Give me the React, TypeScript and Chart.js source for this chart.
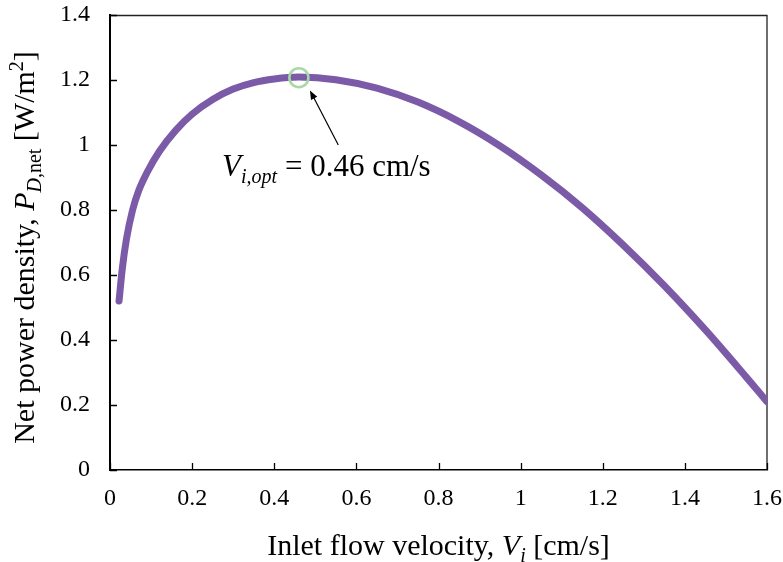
import { useEffect, useRef } from "react";
import { Chart, registerables } from "chart.js";

Chart.register(...registerables);

// Inlet flow velocity V_i [cm/s]
const velocity = [0.022, 0.03, 0.04, 0.055, 0.07, 0.09, 0.12, 0.16, 0.2, 0.25, 0.3, 0.35, 0.4, 0.46, 0.55, 0.65, 0.75, 0.85, 0.95, 1.05, 1.15, 1.25, 1.35, 1.45, 1.55, 1.6];
// Net power density P_D,net [W/m2]
const powerDensity = [0.52, 0.62, 0.71, 0.8, 0.86, 0.915, 0.98, 1.045, 1.095, 1.14, 1.172, 1.192, 1.203, 1.209, 1.201, 1.175, 1.132, 1.072, 0.997, 0.908, 0.807, 0.692, 0.567, 0.431, 0.285, 0.21];

const optimumPoint = [0.46, 1.207];
const arrowTail = [0.556, 1.0];
const arrowHead = [0.487, 1.168];
const labelAnchor = [0.273, 0.905];

const xRange = [0, 1.6];
const yRange = [0, 1.4];
const tickStep = 0.2;

const FONT = '"Liberation Serif", "Times New Roman", serif';

type Seg = { t: string; it?: boolean; sub?: boolean; sup?: boolean };

function drawRich(ctx: CanvasRenderingContext2D, segs: Seg[], x: number, y: number, size: number, align: "left" | "center") {
  const fontFor = (s: Seg) => `${s.it ? "italic " : ""}${s.sub || s.sup ? Math.round(size * 0.65) : size}px ${FONT}`;
  let total = 0;
  const widths = segs.map((s) => {
    ctx.font = fontFor(s);
    const w = ctx.measureText(s.t).width;
    total += w;
    return w;
  });
  let cx = align === "center" ? x - total / 2 : x;
  ctx.textAlign = "left";
  ctx.textBaseline = "alphabetic";
  segs.forEach((s, i) => {
    ctx.font = fontFor(s);
    const dy = s.sub ? size * 0.22 : s.sup ? -size * 0.38 : 0;
    ctx.fillText(s.t, cx, y + dy);
    cx += widths[i];
  });
}

const framePlugin = {
  id: "frame",
  beforeDatasetsDraw(chart: any) {
    const { ctx, chartArea: a, scales } = chart;
    const x = scales.x;
    const y = scales.y;
    ctx.save();
    ctx.strokeStyle = "#222";
    ctx.lineWidth = 1.3;
    ctx.beginPath();
    ctx.moveTo(a.left, a.top + 0.5);
    ctx.lineTo(a.right, a.top + 0.5);
    ctx.lineTo(a.right, a.bottom);
    ctx.stroke();
    ctx.strokeStyle = "#000";
    ctx.lineWidth = 1.3;
    ctx.beginPath();
    x.ticks.forEach((t: any) => {
      const px = Math.round(x.getPixelForValue(t.value)) + 0.5;
      ctx.moveTo(px, a.bottom);
      ctx.lineTo(px, a.bottom - 7);
    });
    y.ticks.forEach((t: any) => {
      const py = Math.round(y.getPixelForValue(t.value)) + 0.5;
      ctx.moveTo(a.left, py);
      ctx.lineTo(a.left + 7, py);
    });
    ctx.stroke();
    ctx.restore();
  },
  afterDraw(chart: any) {
    const { ctx, scales, chartArea: a } = chart;
    const x = scales.x;
    const y = scales.y;
    ctx.save();
    ctx.fillStyle = "#000";
    ctx.strokeStyle = "#000";
    // arrow
    const x1 = x.getPixelForValue(arrowTail[0]);
    const y1 = y.getPixelForValue(arrowTail[1]);
    const x2 = x.getPixelForValue(arrowHead[0]);
    const y2 = y.getPixelForValue(arrowHead[1]);
    const ang = Math.atan2(y2 - y1, x2 - x1);
    const hl = 9;
    const hw = 3.5;
    ctx.lineWidth = 1.2;
    ctx.beginPath();
    ctx.moveTo(x1, y1);
    ctx.lineTo(x2 - Math.cos(ang) * hl * 0.8, y2 - Math.sin(ang) * hl * 0.8);
    ctx.stroke();
    ctx.beginPath();
    ctx.moveTo(x2, y2);
    ctx.lineTo(x2 - Math.cos(ang) * hl - Math.sin(ang) * hw, y2 - Math.sin(ang) * hl + Math.cos(ang) * hw);
    ctx.lineTo(x2 - Math.cos(ang) * hl + Math.sin(ang) * hw, y2 - Math.sin(ang) * hl - Math.cos(ang) * hw);
    ctx.closePath();
    ctx.fill();

    // annotation
    drawRich(
      ctx,
      [{ t: "V", it: true }, { t: "i,opt", it: true, sub: true }, { t: " = 0.46 cm/s" }],
      x.getPixelForValue(labelAnchor[0]),
      y.getPixelForValue(labelAnchor[1]),
      31,
      "left"
    );

    // x title
    drawRich(
      ctx,
      [{ t: "Inlet flow velocity, " }, { t: "V", it: true }, { t: "i", it: true, sub: true }, { t: " [cm/s]" }],
      (a.left + a.right) / 2,
      555,
      30,
      "center"
    );

    // y title
    ctx.translate(34, (a.top + a.bottom) / 2 + 5);
    ctx.rotate(-Math.PI / 2);
    drawRich(
      ctx,
      [
        { t: "Net power density, " },
        { t: "P", it: true },
        { t: "D,", it: true, sub: true },
        { t: "net", sub: true },
        { t: " [W/m" },
        { t: "2", sup: true },
        { t: "]" },
      ],
      0,
      0,
      30,
      "center"
    );
    ctx.restore();
  },
};

export default function App() {
  const ref = useRef<HTMLCanvasElement | null>(null);

  useEffect(() => {
    if (!ref.current) return;
    const fmt = (v: any) => String(Number(Number(v).toFixed(1)));
    const chart = new Chart(ref.current, {
      type: "line",
      data: {
        datasets: [
          {
            data: [{ x: optimumPoint[0], y: optimumPoint[1] }],
            showLine: false,
            pointRadius: 9.5,
            pointBorderWidth: 2.6,
            pointBorderColor: "#A8D8A6",
            pointBackgroundColor: "rgba(0,0,0,0)",
          },
          {
            data: velocity.map((v, i) => ({ x: v, y: powerDensity[i] })),
            borderColor: "#7B5BA7",
            borderWidth: 7,
            borderCapStyle: "round",
            borderJoinStyle: "round",
            pointRadius: 0,
            cubicInterpolationMode: "monotone",
            fill: false,
          },
        ],
      },
      options: {
        animation: false,
        responsive: true,
        maintainAspectRatio: false,
        layout: { padding: { top: 15, right: 16, left: 0, bottom: 0 } },
        plugins: { legend: { display: false }, tooltip: { enabled: false } },
        scales: {
          x: {
            type: "linear",
            min: xRange[0],
            max: xRange[1],
            ticks: { stepSize: tickStep, padding: 14, color: "#000", font: { family: FONT, size: 24 }, callback: fmt, maxRotation: 0, autoSkip: false },
            grid: { display: false, drawTicks: false },
            border: { display: true, color: "#000", width: 1.5 },
            afterFit: (s: any) => {
              s.height = 92;
              s.paddingLeft = 0;
              s.paddingRight = 0;
            },
          },
          y: {
            type: "linear",
            min: yRange[0],
            max: yRange[1],
            ticks: { stepSize: tickStep, padding: 20, color: "#000", font: { family: FONT, size: 24 }, callback: fmt },
            grid: { display: false, drawTicks: false },
            border: { display: true, color: "#000", width: 2 },
            afterFit: (s: any) => {
              s.width = 110;
              s.paddingTop = 0;
              s.paddingBottom = 0;
            },
          },
        },
      },
      plugins: [framePlugin],
    } as any);
    return () => chart.destroy();
  }, []);

  return (
    <div style={{ position: "fixed", left: 0, top: 0, width: 783, height: 562, background: "#fff" }}>
      <canvas ref={ref} />
    </div>
  );
}
